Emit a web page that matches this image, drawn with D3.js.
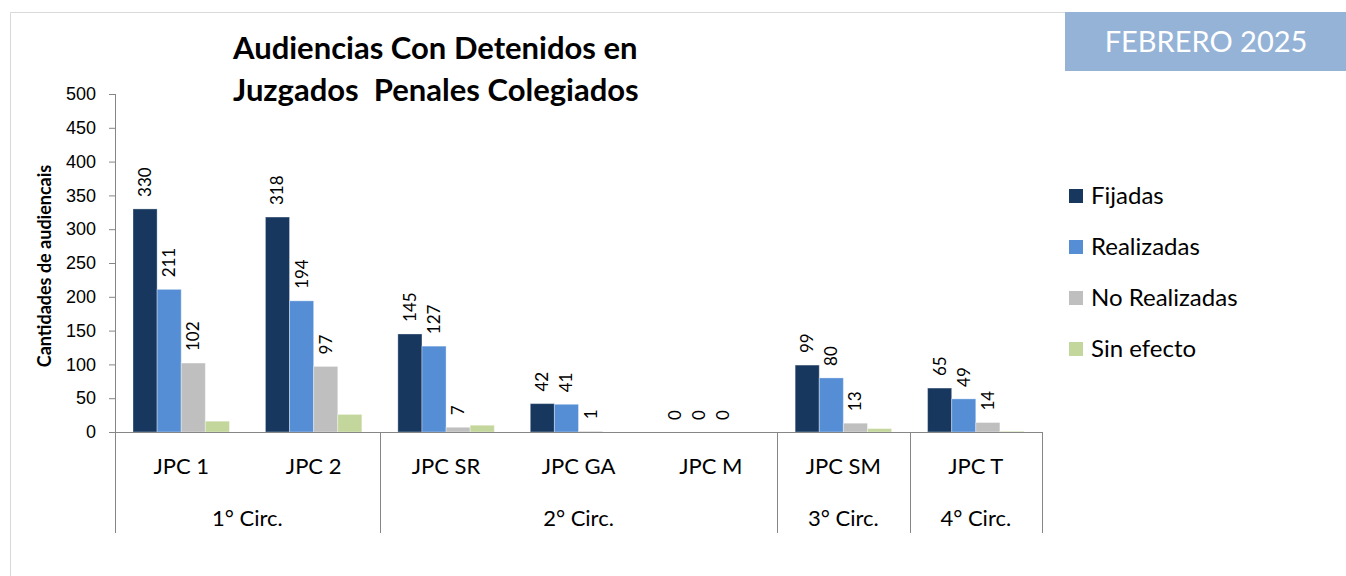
<!DOCTYPE html>
<html>
<head>
<meta charset="utf-8">
<script src="https://cdn.jsdelivr.net/npm/d3@7"></script>
<style>
    body { margin: 0; background: #fff; }
    svg { display: block; font-family: Lato, "Open Sans", sans-serif; }
</style>
</head>
<body>
<svg id="chart" width="1346" height="576"></svg>
<script>
var categories = ["JPC 1", "JPC 2", "JPC SR", "JPC GA", "JPC M", "JPC SM", "JPC T"];
var groupNames = ["1° Circ.", "2° Circ.", "3° Circ.", "4° Circ."];
var groupSizes = [2, 3, 1, 1];
var seriesNames = ["Fijadas", "Realizadas", "No Realizadas", "Sin efecto"];
var fijadas = [330, 318, 145, 42, 0, 99, 65];
var realizadas = [211, 194, 127, 41, 0, 80, 49];
var noRealizadas = [102, 97, 7, 1, 0, 13, 14];
var sinEfecto = [16, 26, 10, 0, 0, 5, 1];
var yTicks = [0, 50, 100, 150, 200, 250, 300, 350, 400, 450, 500];

var colors = ["#17375e", "#558ed5", "#bfbfbf", "#c3d69b"];
var seriesValues = [fijadas, realizadas, noRealizadas, sinEfecto];
var labelled = [true, true, true, false];

var margin = {top: 94, left: 115};
var width = 927,
    height = 338;

var svg = d3.select("#chart");

// outer chart frame (only left and top visible)
svg.append("path")
    .attr("d", "M10.5,576V12.5H1065")
    .attr("fill", "none")
    .attr("stroke", "#d9d9d9");

var chart = svg.append("g")
    .attr("transform", "translate(" + margin.left + "," + margin.top + ")");

var y = d3.scaleLinear()
    .domain([0, 500])
    .range([height, 0]);

var x0 = d3.scaleBand()
    .domain(categories)
    .range([0, width]);

var x1 = d3.scaleBand()
    .domain(seriesNames)
    .range([18, x0.bandwidth() - 18]);

var rows = categories.map(function(c, i) {
    return {
        cat: c,
        vals: seriesNames.map(function(s, j) {
            return {series: s, j: j, value: seriesValues[j][i]};
        })
    };
});

var yAxis = d3.axisLeft(y)
    .tickValues(yTicks)
    .tickSize(6)
    .tickSizeOuter(0)
    .tickPadding(13);

var gy = chart.append("g")
    .attr("class", "y axis")
    .call(yAxis);
gy.select(".domain").remove();
gy.selectAll("line").attr("stroke", "#868686");
gy.selectAll("text")
    .style("font-size", "18px")
    .attr("fill", "#000");

// bars
var cat = chart.selectAll(".cat")
    .data(rows)
    .enter().append("g")
    .attr("class", "cat")
    .attr("transform", function(d) {
        return "translate(" + x0(d.cat) + ",0)";
    });

cat.selectAll("rect")
    .data(function(d) { return d.vals; })
    .enter().append("rect")
    .attr("x", function(d) { return x1(d.series); })
    .attr("y", function(d) { return y(d.value); })
    .attr("width", x1.bandwidth())
    .attr("height", function(d) { return height - y(d.value); })
    .attr("fill", function(d) { return colors[d.j]; })
    .attr("stroke", function(d) { return d.value > 0 ? "rgba(255,255,255,0.35)" : "none"; })
    .attr("stroke-width", 1);

cat.selectAll(".lbl")
    .data(function(d) { return d.vals.filter(function(v) { return labelled[v.j]; }); })
    .enter().append("text")
    .attr("class", "lbl")
    .attr("transform", function(d) {
        return "translate(" + (x1(d.series) + x1.bandwidth() / 2 + 6) + "," + (y(d.value) - 12) + ") rotate(-90)";
    })
    .style("font-size", "17px")
    .attr("fill", "#000")
    .text(function(d) { return d.value; });

// x axis line
chart.append("line")
    .attr("x1", -6).attr("x2", width)
    .attr("y1", height + 0.5).attr("y2", height + 0.5)
    .attr("stroke", "#868686");

// left axis line
chart.append("line")
    .attr("x1", 0.5).attr("x2", 0.5)
    .attr("y1", 0).attr("y2", height + 101)
    .attr("stroke", "#868686");

// category labels
chart.selectAll(".catlbl")
    .data(categories)
    .enter().append("text")
    .attr("class", "catlbl")
    .attr("x", function(d) { return x0(d) + x0.bandwidth() / 2; })
    .attr("y", height + 42)
    .attr("text-anchor", "middle")
    .style("font-size", "22px")
    .attr("fill", "#000")
    .text(function(d) { return d; });

// group dividers and labels
var start = 0;
var groups = groupNames.map(function(g, i) {
    var o = {name: g, from: start, to: start + groupSizes[i]};
    start += groupSizes[i];
    return o;
});

chart.selectAll(".divider")
    .data(groups)
    .enter().append("line")
    .attr("class", "divider")
    .attr("x1", function(d) { return Math.round(d.to * x0.step()) + 0.5; })
    .attr("x2", function(d) { return Math.round(d.to * x0.step()) + 0.5; })
    .attr("y1", height)
    .attr("y2", height + 101)
    .attr("stroke", "#868686");

chart.selectAll(".grplbl")
    .data(groups)
    .enter().append("text")
    .attr("class", "grplbl")
    .attr("x", function(d) { return (d.from + d.to) / 2 * x0.step(); })
    .attr("y", height + 94)
    .attr("text-anchor", "middle")
    .style("font-size", "22px")
    .attr("fill", "#000")
    .text(function(d) { return d.name; });

// y axis title
svg.append("text")
    .attr("transform", "translate(51,266) rotate(-90)")
    .attr("text-anchor", "middle")
    .style("font-size", "18px")
    .style("font-weight", "bold")
    .attr("fill", "#000")
    .text("Cantidades de audiencais");

// chart title
var title = svg.append("text")
    .attr("x", 233)
    .attr("y", 59)
    .style("font-size", "31px")
    .style("font-weight", "bold")
    .attr("fill", "#000");
title.append("tspan").attr("x", 233).text("Audiencias Con Detenidos en");
title.append("tspan").attr("x", 233).attr("dy", 42).attr("xml:space", "preserve").text("Juzgados  Penales Colegiados");

// legend
var legend = svg.selectAll(".legend")
    .data(seriesNames)
    .enter().append("g")
    .attr("class", "legend")
    .attr("transform", function(d, i) {
        return "translate(1069," + (189 + i * 51) + ")";
    });

legend.append("rect")
    .attr("width", 14)
    .attr("height", 14)
    .attr("fill", function(d, i) { return colors[i]; });

legend.append("text")
    .attr("x", 22)
    .attr("y", 15)
    .style("font-size", "24px")
    .attr("fill", "#000")
    .text(function(d) { return d; });

// month badge
svg.append("rect")
    .attr("x", 1065)
    .attr("y", 12)
    .attr("width", 281)
    .attr("height", 59)
    .attr("fill", "#95b3d7");

svg.append("text")
    .attr("x", 1206)
    .attr("y", 52)
    .attr("text-anchor", "middle")
    .style("font-size", "29px")
    .attr("fill", "#fff")
    .text("FEBRERO 2025");
</script>
</body>
</html>
